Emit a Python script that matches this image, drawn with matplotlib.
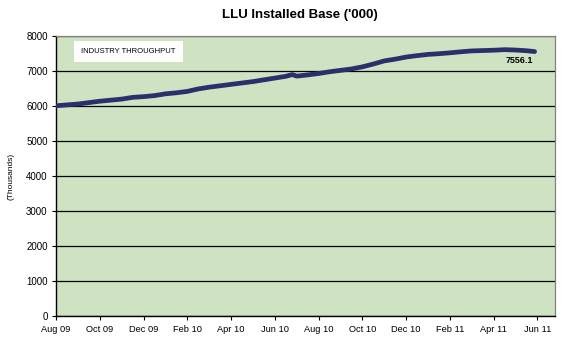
import matplotlib
matplotlib.use("Agg")
import matplotlib.pyplot as plt

plt.rcParams['font.family'] = ['Liberation Sans', 'DejaVu Sans']

# months since Aug 2009
months = [0, 1, 1.25, 2, 3, 3.5, 4, 4.5, 5, 5.5, 6, 6.5, 7, 7.5, 8, 8.5, 9, 9.5,
          10, 10.5, 10.8, 11.0, 11.5, 12, 12.5, 13, 13.5, 14, 14.5, 15, 15.5, 16,
          16.5, 17, 17.5, 18, 18.5, 19, 19.5, 20, 20.5, 21, 21.5, 21.87]
values = [6010, 6060, 6080, 6140, 6200, 6250, 6270, 6300, 6350, 6380, 6420, 6490,
          6540, 6580, 6620, 6660, 6700, 6750, 6800, 6850, 6900, 6855, 6890, 6930,
          6980, 7020, 7060, 7120, 7200, 7290, 7340, 7400, 7440, 7475, 7495, 7520,
          7550, 7575, 7585, 7595, 7610, 7600, 7580, 7556.1]
tick_pos = [0, 2, 4, 6, 8, 10, 12, 14, 16, 18, 20, 22]
tick_labels = ["Aug 09", "Oct 09", "Dec 09", "Feb 10", "Apr 10", "Jun 10",
               "Aug 10", "Oct 10", "Dec 10", "Feb 11", "Apr 11", "Jun 11"]
y_ticks = [0, 1000, 2000, 3000, 4000, 5000, 6000, 7000, 8000]

fig = plt.figure(figsize=(5.88, 3.39), dpi=100)
ax = fig.add_axes([0.0952, 0.0664, 0.8486, 0.8274])
ax.set_facecolor('#CFE3C3')

ax.plot(months, values, color='#2B2F6B', lw=3.4, solid_capstyle='round', zorder=3)

ax.set_xlim(0, 22.8)
ax.set_ylim(0, 8000)
ax.set_yticks(y_ticks)
ax.set_yticklabels([str(v) for v in y_ticks], fontsize=7)
ax.set_xticks(tick_pos)
ax.set_xticklabels(tick_labels, fontsize=6.7)
ax.tick_params(axis='both', direction='out', length=3, width=0.8, pad=3)
ax.grid(axis='y', color='black', lw=0.9, zorder=1)
ax.set_axisbelow(True)

for s in ['top', 'right']:
    ax.spines[s].set_color('#808080')
    ax.spines[s].set_linewidth(0.9)
for s in ['left', 'bottom']:
    ax.spines[s].set_color('black')
    ax.spines[s].set_linewidth(1.0)

fig.text(0.51, 0.955, "LLU Installed Base ('000)", ha='center', va='center',
         fontsize=9.5, fontweight='bold')
fig.text(0.018, 0.48, "(Thousands)", rotation=90, ha='center', va='center', fontsize=6)

ax.text(0.05, 0.945, "INDUSTRY THROUGHPUT", transform=ax.transAxes, fontsize=5.5,
        ha='left', va='center',
        bbox=dict(boxstyle='square,pad=0.95', fc='white', ec='none'))
ax.annotate("7556.1", xy=(months[-1], values[-1]), xytext=(-1, -6.5),
            textcoords='offset points', ha='right', va='center',
            fontsize=6.5, fontweight='bold')

fig.savefig('out.png', dpi=100)
